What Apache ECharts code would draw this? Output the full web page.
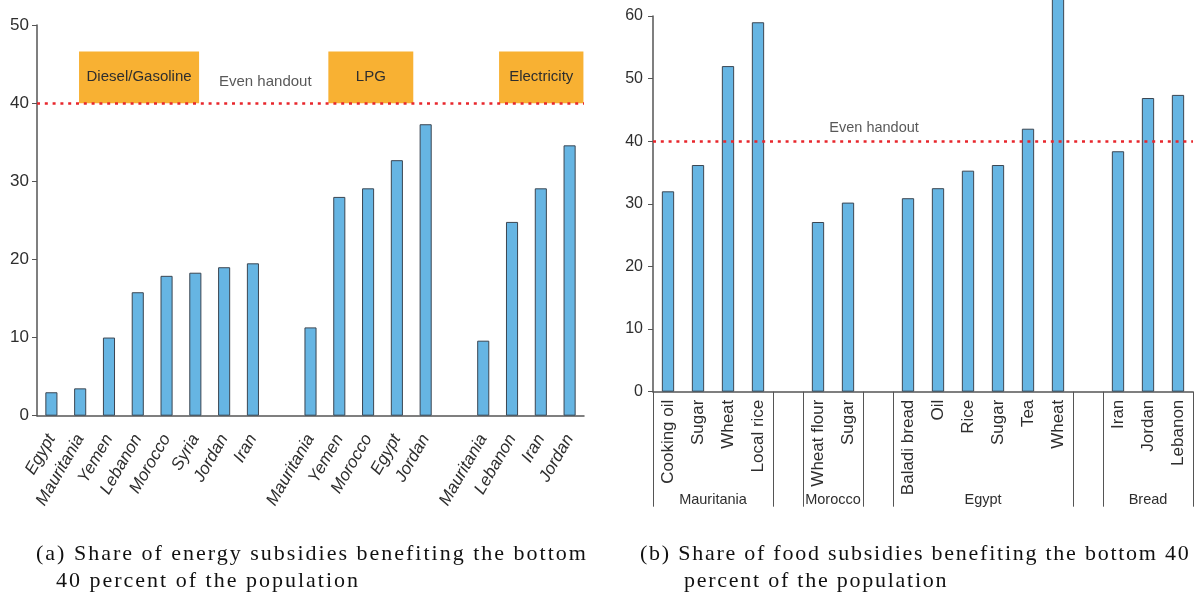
<!DOCTYPE html>
<html>
<head>
<meta charset="utf-8">
<title>Subsidies benefiting the bottom 40 percent</title>
<script src="https://cdn.jsdelivr.net/npm/echarts@6/dist/echarts.min.js"></script>
<style>
  html, body { margin: 0; padding: 0; background: #fff; }
  #wrap { position: relative; width: 1194px; height: 598px; overflow: hidden; }
  #chart { position: absolute; left: 0; top: 0; width: 1194px; height: 598px; }
  .cap { position: absolute; font-family: 'Liberation Serif', 'DejaVu Serif', serif; font-size: 22px;
         letter-spacing: 2px; color: #111; line-height: 27px; white-space: nowrap; }
</style>
</head>
<body>
<div id="wrap">
  <div id="chart"></div>
  <div class="cap" id="capA" style="left:36px; top:539px;"></div>
  <div class="cap" id="capB" style="left:640px; top:539px; letter-spacing:1.75px;"></div>
</div>
<script>
// ---- Energy subsidies (percent of benefits reaching bottom 40%) ----
const dieselCountries = ['Egypt', 'Mauritania', 'Yemen', 'Lebanon', 'Morocco', 'Syria', 'Jordan', 'Iran'];
const dieselValues    = [3.0, 3.5, 10.0, 15.8, 17.9, 18.3, 19.0, 19.5];
const lpgCountries    = ['Mauritania', 'Yemen', 'Morocco', 'Egypt', 'Jordan'];
const lpgValues       = [11.3, 28.0, 29.1, 32.7, 37.3];
const elecCountries   = ['Mauritania', 'Lebanon', 'Iran', 'Jordan'];
const elecValues      = [9.6, 24.8, 29.1, 34.6];
const energyGroupNames = ['Diesel/Gasoline', 'LPG', 'Electricity'];
// x-extent of each group banner, in category units along the energy axis
const energyBannerSpans = [[1.46, 5.63], [10.12, 13.07], [16.05, 18.98]];
const energyBannerTop = 46.6;
const energyTicks = [0, 10, 20, 30, 40, 50];

// ---- Food subsidies ----
const foodGroups = ['Mauritania', 'Morocco', 'Egypt', 'Bread'];
const foodItems = [
  ['Cooking oil', 'Sugar', 'Wheat', 'Local rice'],
  ['Wheat flour', 'Sugar'],
  ['Baladi bread', 'Oil', 'Rice', 'Sugar', 'Tea', 'Wheat'],
  ['Iran', 'Jordan', 'Lebanon']
];
const foodValues = [
  [32.0, 36.2, 52.0, 59.0],
  [27.1, 30.2],
  [30.9, 32.5, 35.3, 36.2, 42.0, 67.0],
  [38.4, 46.9, 47.4]
];
const foodTicks = [0, 10, 20, 30, 40, 50, 60];

const evenHandout = 40;
const evenLabel = 'Even handout';

// ---- caption text ----
document.getElementById('capA').innerHTML =
  '(a) Share of energy subsidies benefiting the bottom<br><span style="padding-left:20px">40 percent of the population</span>';
document.getElementById('capB').innerHTML =
  '(b) Share of food subsidies benefiting the bottom 40<br><span style="padding-left:44px">percent of the population</span>';

// Build energy category list with an empty slot between groups
const energyCats = [], energyData = [];
[[dieselCountries, dieselValues], [lpgCountries, lpgValues], [elecCountries, elecValues]].forEach((g, gi) => {
  if (gi > 0) { energyCats.push(''); energyData.push(null); }
  g[0].forEach((c, i) => { energyCats.push(c); energyData.push(g[1][i]); });
});

// Build food category list, group boundaries and group centres
const foodCats = [], foodData = [], groupBounds = [0], groupCenters = [];
foodItems.forEach((items, gi) => {
  if (gi > 0) { foodCats.push(''); foodData.push(null); groupBounds.push(foodCats.length); }
  const start = foodCats.length;
  items.forEach((it, i) => { foodCats.push(it); foodData.push(foodValues[gi][i]); });
  groupBounds.push(foodCats.length);
  groupCenters.push((start + foodCats.length) / 2);
});

const SANS = "'Liberation Sans', Arial, Helvetica, sans-serif";
const AXIS = '#555';
const TEXT = '#2e2e2e';
const BAR = '#66b5e3';
const BAR_EDGE = '#3b4652';
const RED = '#e8262c';

const redLine = {
  silent: true, symbol: 'none', label: { show: false },
  lineStyle: { color: RED, width: 2.6, type: [3, 4.8] },
  data: [{ yAxis: evenHandout }]
};

const chart = echarts.init(document.getElementById('chart'), null, { renderer: 'canvas' });
chart.setOption({
  animation: false,
  grid: [
    { left: 37, top: 25, width: 547, height: 390.7 },
    { left: 653, top: 16, width: 540, height: 375.7 }
  ],
  xAxis: [
    { // energy categories
      type: 'category', gridIndex: 0, data: energyCats,
      axisLine: { lineStyle: { color: AXIS, width: 1.5 } },
      axisTick: { inside: true, length: 7, interval: 0, lineStyle: { color: AXIS } },
      axisLabel: { interval: 0, rotate: 60, margin: 20, fontFamily: SANS, fontSize: 17,
                   fontStyle: 'italic', color: TEXT }
    },
    { // continuous helper axis for the banners
      type: 'value', gridIndex: 0, min: 0, max: energyCats.length, show: false
    },
    { // food items
      type: 'category', gridIndex: 1, data: foodCats,
      axisLine: { lineStyle: { color: AXIS, width: 1.5 } },
      axisTick: { length: 94, interval: 0, lineStyle: { color: AXIS } },
      axisLabel: { interval: 0, rotate: 90, margin: 8, fontFamily: SANS, fontSize: 17, color: TEXT }
    },
    { // food group level
      type: 'value', gridIndex: 1, min: 0, max: foodCats.length, position: 'bottom',
      axisLine: { show: false }, splitLine: { show: false },
      axisTick: { show: true, length: 115, customValues: groupBounds, lineStyle: { color: AXIS } },
      axisLabel: { show: true, margin: 101, customValues: groupCenters, fontFamily: SANS, fontSize: 14.5,
                   color: TEXT, formatter: v => foodGroups[groupCenters.indexOf(v)] }
    }
  ],
  yAxis: [
    {
      type: 'value', gridIndex: 0, min: 0, max: 50, interval: 10,
      axisLine: { show: true, lineStyle: { color: AXIS, width: 1.5 } },
      axisTick: { show: true, length: 5, lineStyle: { color: AXIS } },
      splitLine: { show: false },
      axisLabel: { margin: 8, fontFamily: SANS, fontSize: 17, color: TEXT,
                   customValues: energyTicks }
    },
    {
      type: 'value', gridIndex: 1, min: 0, max: 60, interval: 10,
      axisLine: { show: true, lineStyle: { color: AXIS, width: 1.5 } },
      axisTick: { show: true, length: 5, lineStyle: { color: AXIS } },
      splitLine: { show: false },
      axisLabel: { margin: 10, fontFamily: SANS, fontSize: 16, color: TEXT,
                   customValues: foodTicks }
    }
  ],
  series: [
    {
      name: 'Energy', type: 'bar', xAxisIndex: 0, yAxisIndex: 0, data: energyData,
      barWidth: '42%',
      itemStyle: { color: BAR, borderColor: BAR_EDGE, borderWidth: 1 },
      markLine: redLine, z: 3
    },
    {
      name: 'Energy banners', type: 'scatter', xAxisIndex: 1, yAxisIndex: 0,
      symbolSize: 0, silent: true,
      data: [{ value: [7.93, 42.7], label: { show: true, formatter: evenLabel, position: 'inside',
               fontFamily: SANS, fontSize: 15, color: TEXT } }],
      markArea: {
        silent: true,
        itemStyle: { color: '#f8b133', opacity: 1 },
        label: { show: true, position: 'inside', fontFamily: SANS, fontSize: 15, color: TEXT },
        data: energyGroupNames.map((n, i) => [
          { name: n, xAxis: energyBannerSpans[i][0], yAxis: evenHandout },
          { xAxis: energyBannerSpans[i][1], yAxis: energyBannerTop }
        ])
      },
      z: 4
    },
    {
      name: 'Food', type: 'bar', xAxisIndex: 2, yAxisIndex: 1, data: foodData,
      barWidth: '41%', clip: false,
      itemStyle: { color: BAR, borderColor: BAR_EDGE, borderWidth: 1 },
      markLine: redLine, z: 3
    },
    {
      name: 'Food label', type: 'scatter', xAxisIndex: 3, yAxisIndex: 1,
      symbolSize: 0, silent: true,
      data: [{ value: [7.37, 42.1], label: { show: true, formatter: evenLabel, position: 'inside',
               fontFamily: SANS, fontSize: 14.5, color: TEXT } }]
    }
  ]
});
</script>
</body>
</html>
